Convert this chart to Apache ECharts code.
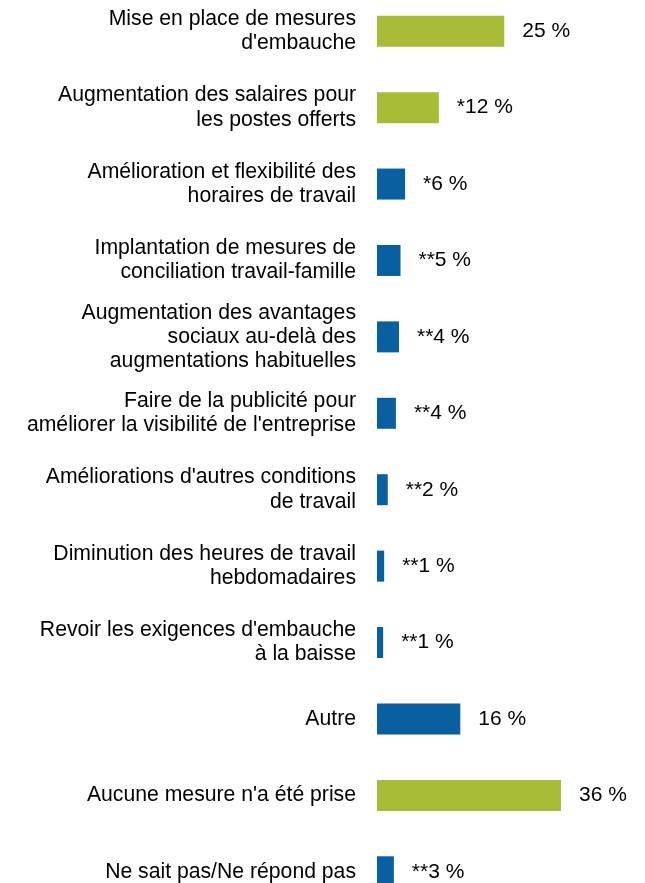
<!DOCTYPE html>
<html>
<head>
<meta charset="utf-8">
<script src="https://cdn.jsdelivr.net/npm/echarts@6/dist/echarts.min.js"></script>
<style>
html,body{margin:0;padding:0;background:#fff;}
#c{width:645px;height:883px;}
</style>
</head>
<body>
<div id="c"></div>
<script>
const categories = [
  "Mise en place de mesures\nd'embauche",
  "Augmentation des salaires pour\nles postes offerts",
  "Amélioration et flexibilité des\nhoraires de travail",
  "Implantation de mesures de\nconciliation travail-famille",
  "Augmentation des avantages\nsociaux au-delà des\naugmentations habituelles",
  "Faire de la publicité pour\naméliorer la visibilité de l'entreprise",
  "Améliorations d'autres conditions\nde travail",
  "Diminution des heures de travail\nhebdomadaires",
  "Revoir les exigences d'embauche\nà la baisse",
  "Autre",
  "Aucune mesure n'a été prise",
  "Ne sait pas/Ne répond pas"
];
const values = [24.9, 12.1, 5.5, 4.6, 4.3, 3.7, 2.1, 1.4, 1.2, 16.3, 36.0, 3.3];
const valueLabels = ["25 %", "*12 %", "*6 %", "**5 %", "**4 %", "**4 %", "**2 %", "**1 %", "**1 %", "16 %", "36 %", "**3 %"];
const greenItems = [0, 1, 10];

const GREEN = '#A8BC38';
const BLUE = '#0A5FA0';

const chart = echarts.init(document.getElementById('c'), null, {renderer: 'canvas'});
chart.setOption({
  animation: false,
  backgroundColor: '#ffffff',
  grid: {left: 377, top: -7, width: 255.5, height: 917, containLabel: false, outerBoundsMode: 'none'},
  xAxis: {
    type: 'value', min: 0, max: 50, show: false
  },
  yAxis: {
    type: 'category',
    data: categories,
    inverse: true,
    axisLine: {show: false},
    axisTick: {show: false},
    splitLine: {show: false},
    axisLabel: {
      margin: 21,
      fontFamily: 'Liberation Sans, Arial, sans-serif',
      fontSize: 21.2,
      lineHeight: 24.2,
      color: '#000',
      align: 'right'
    }
  },
  series: [{
    type: 'bar',
    barWidth: 31,
    data: values.map((v, i) => ({
      value: v,
      itemStyle: {color: greenItems.includes(i) ? GREEN : BLUE}
    })),
    label: {
      show: true,
      position: 'right',
      distance: 18,
      fontFamily: 'Liberation Sans, Arial, sans-serif',
      fontSize: 21,
      color: '#000',
      formatter: p => valueLabels[p.dataIndex]
    }
  }]
});
</script>
</body>
</html>
